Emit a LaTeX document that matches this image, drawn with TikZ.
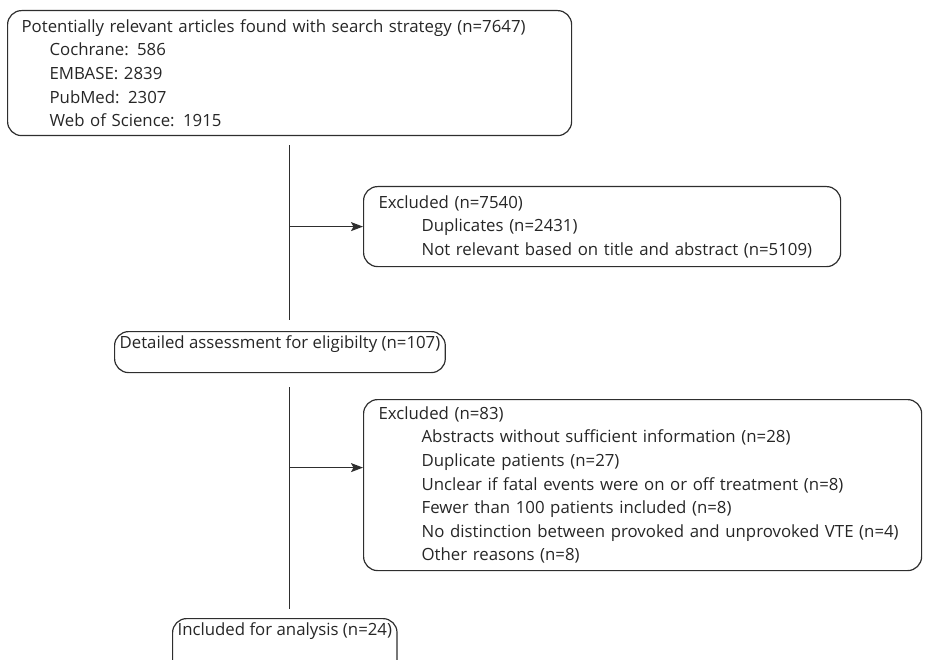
\documentclass[tikz,border=0pt]{standalone}
\usepackage{fontspec}
\setmainfont{Open Sans}
\usetikzlibrary{positioning, arrows.meta, calc}
\definecolor{flowgray}{HTML}{2E2E2E}

\newcommand{\indsrc}{\hspace*{28pt}}
\newcommand{\indexc}{\hspace*{43pt}}

\begin{document}
\begin{tikzpicture}[
  x=1pt, y=-1pt,
  font=\fontsize{16.8}{23.6}\selectfont,
  flowbox/.style={draw=flowgray, line width=1.2pt, rounded corners=14pt,
    align=left, anchor=north west, text=black!85},
  flowline/.style={draw=flowgray, line width=1.2pt},
  flowarrow/.style={flowline, -{Stealth[length=12pt, width=9pt, inset=2.5pt]}},
]
\useasboundingbox (0,0) rectangle (925,660);

% ---- main column ----
\node[flowbox, text width=536pt, inner xsep=14pt, minimum height=125pt] (search) at (7,10)
  {Potentially relevant articles found with search strategy (n=7647)\\
   \indsrc Cochrane: 586\\
   \indsrc EMBASE: 2839\\
   \indsrc PubMed: 2307\\
   \indsrc Web of Science: 1915};
\node[flowbox, inner xsep=5pt, inner ysep=3pt, text height=14pt, text depth=21pt] (detail) at (114,331)
  {Detailed assessment for eligibilty (n=107)};
\node[flowbox, inner xsep=5pt, inner ysep=3pt, text height=14pt, text depth=40pt] (include) at (172,618)
  {Included for analysis (n=24)};

% ---- exclusions ----
\node[flowbox, text width=447pt, inner xsep=15pt, minimum height=80pt] (excl1) at (363,186)
  {Excluded (n=7540)\\
   \indexc Duplicates (n=2431)\\
   \indexc Not relevant based on title and abstract (n=5109)};
\node[flowbox, text width=528pt, inner xsep=15pt, minimum height=171pt] (excl2) at (363,399)
  {Excluded (n=83)\\
   \indexc Abstracts without sufficient information (n=28)\\
   \indexc Duplicate patients (n=27)\\
   \indexc Unclear if fatal events were on or off treatment (n=8)\\
   \indexc Fewer than 100 patients included (n=8)\\
   \indexc No distinction between provoked and unprovoked VTE (n=4)\\
   \indexc Other reasons (n=8)};
\coordinate (ex2in) at ([yshift=17.5pt]excl2.west);

% ---- connectors ----
\draw[flowline, shorten <=9pt, shorten >=11pt] (search.south) -- (search.south |- detail.north);
\draw[flowline, shorten <=14pt, shorten >=9pt] (search.south |- detail.south) -- (search.south |- include.north);
\draw[flowarrow] (search.south |- excl1.west) -- (excl1.west);
\draw[flowarrow] (search.south |- ex2in) -- (ex2in);

\end{tikzpicture}
\end{document}
